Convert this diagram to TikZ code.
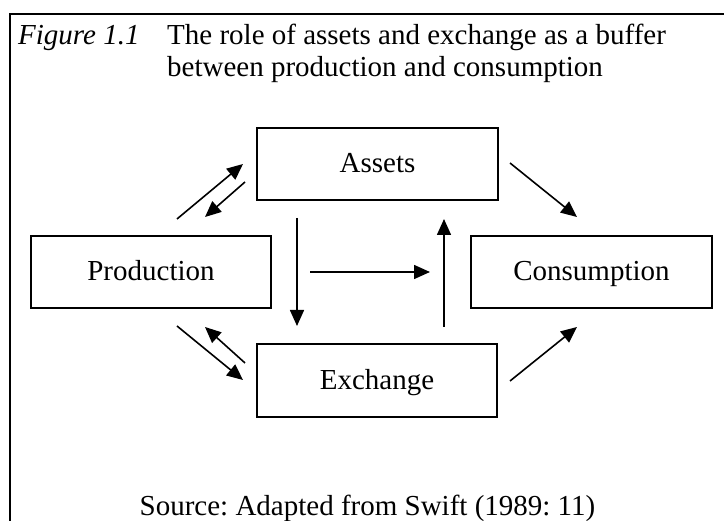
\documentclass[tikz,border=0pt]{standalone}
\usepackage{fontspec}
\setmainfont{Liberation Serif}
\usetikzlibrary{arrows.meta}
\frenchspacing
\begin{document}
\begin{tikzpicture}[x=1pt,y=-1pt,
  every node/.style={font=\fontsize{29}{33}\selectfont, inner sep=0pt},
  box/.style={draw, line width=1.8pt, text height=21pt, text depth=3pt},
  arr/.style={line width=1.6pt, -{Triangle[length=16pt,width=14pt]}},
  frame/.style={line width=2.4pt}]
\useasboundingbox (0,0) rectangle (724,521);
\fill[white] (0,0) rectangle (724,521);

% open frame: top and left rules
\draw[frame] (10,521) -- (10,14) -- (724,14);

% caption
\node[anchor=base west] (figlabel) at (18,45) {\itshape Figure 1.1};
\node[anchor=base west] (title1) at (167,45) {The role of assets and exchange as a buffer};
\node[anchor=base west] (title2) at (167,77) {between production and consumption};

% the four boxes
\node[box, minimum width=241pt, minimum height=72pt] (assets) at (377.5,164) {Assets};
\node[box, minimum width=240pt, minimum height=72pt] (prod) at (151,272) {Production};
\node[box, minimum width=240pt, minimum height=73pt] (exch) at (377,380.5) {Exchange};
\node[box, minimum width=241pt, minimum height=72pt] (cons) at (591.5,272) {Consumption};

% arrow end points
\coordinate (pa1) at (177,219);  \coordinate (pa2) at (243,164);
\coordinate (ap1) at (245,182);  \coordinate (ap2) at (205,217);
\coordinate (pe1) at (177,326);  \coordinate (pe2) at (243,380);
\coordinate (ep1) at (245,363);  \coordinate (ep2) at (205,327);
\coordinate (ae1) at (297,218);  \coordinate (ae2) at (297,326);
\coordinate (mid1) at (310,272); \coordinate (mid2) at (430,272);
\coordinate (ea1) at (444,327);  \coordinate (ea2) at (444,219);
\coordinate (ac1) at (510,163);  \coordinate (ac2) at (577,217);
\coordinate (ec1) at (510,381);  \coordinate (ec2) at (577,327);

\draw[arr] (pa1) -- (pa2);
\draw[arr] (ap1) -- (ap2);
\draw[arr] (pe1) -- (pe2);
\draw[arr] (ep1) -- (ep2);
\draw[arr] (ae1) -- (ae2);
\draw[arr] (mid1) -- (mid2);
\draw[arr] (ea1) -- (ea2);
\draw[arr] (ac1) -- (ac2);
\draw[arr] (ec1) -- (ec2);

% source line
\node[anchor=base] (source) at (367.5,516) {Source: Adapted from Swift (1989: 11)};
\end{tikzpicture}
\end{document}
